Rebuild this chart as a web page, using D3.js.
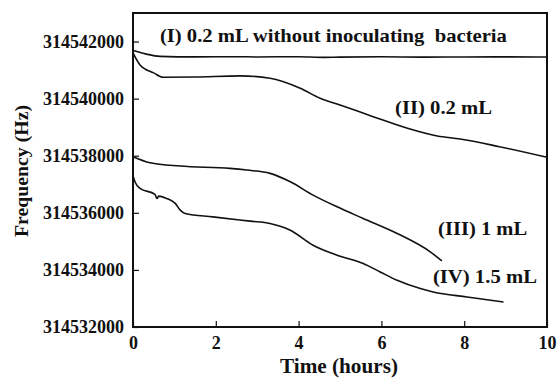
<!DOCTYPE html>
<html>
<head>
<meta charset="utf-8">
<script src="https://cdn.jsdelivr.net/npm/d3@7"></script>
<style>
  body { margin: 0; background: #fff; }
  svg text { font-family: "Liberation Serif", "Times New Roman", serif; font-weight: bold; fill: #111; }
</style>
</head>
<body>
<div id="chart"></div>
<script>
// [time (h), frequency (Hz)]
const curveI = [
  [0, 314541684], [0.3, 314541568], [0.65, 314541481], [1.5, 314541463], [2.5, 314541470],
  [3, 314541460], [4, 314541470], [4.6, 314541445], [5, 314541455], [6, 314541465],
  [7, 314541455], [8, 314541460], [9, 314541462], [10, 314541460]
]
const curveII = [
  [0, 314541604], [0.17, 314541182], [0.5, 314540902], [0.72, 314540751], [1.5, 314540760],
  [2.59, 314540796], [3.31, 314540716], [4.04, 314540365], [4.52, 314540014], [5.0, 314539779],
  [5.8, 314539369], [6.63, 314538961], [7.35, 314538691], [7.9, 314538586], [8.85, 314538316],
  [10, 314537944]
]
const curveIII = [
  [0, 314537965], [0.41, 314537754], [1.14, 314537638], [2.34, 314537558], [2.75, 314537498],
  [3.31, 314537382], [3.8, 314537087], [4.35, 314536621], [4.93, 314536210], [5.56, 314535803],
  [6.38, 314535277], [7.18, 314534632], [7.46, 314534316]
]
const curveIV = [
  [0, 314537300], [0.05, 314537080], [0.17, 314536856], [0.53, 314536645], [0.58, 314536500],
  [0.62, 314536586], [0.81, 314536505], [1.02, 314536330], [1.14, 314536094], [1.26, 314535978],
  [1.93, 314535859], [2.83, 314535708], [3.31, 314535628], [3.8, 314535392], [4.35, 314534866],
  [4.93, 314534515], [5.56, 314534224], [5.97, 314533929], [6.38, 314533638], [6.94, 314533347],
  [7.25, 314533228], [8.07, 314533052], [8.95, 314532877]
]
const series = [curveI, curveII, curveIII, curveIV]

const xTicks = [0, 2, 4, 6, 8, 10]
const yTicks = [314532000, 314534000, 314536000, 314538000, 314540000, 314542000]

const labels = [
  { text: "(I) 0.2 mL without inoculating  bacteria", t: 0.65, f: 314541990, len: 347 },
  { text: "(II) 0.2 mL", t: 6.33, f: 314539463, len: 97 },
  { text: "(III) 1 mL", t: 7.37, f: 314535214, len: 89 },
  { text: "(IV) 1.5 mL", t: 7.245, f: 314533530, len: 104 }
]

const dimensions = {
  width: 557,
  height: 383,
  margin: { top: 13, right: 10, bottom: 56, left: 133 }
}
dimensions.boundedWidth = dimensions.width - dimensions.margin.left - dimensions.margin.right
dimensions.boundedHeight = dimensions.height - dimensions.margin.top - dimensions.margin.bottom

const wrapper = d3.select("#chart")
  .append("svg")
    .attr("width", dimensions.width)
    .attr("height", dimensions.height)

const bounds = wrapper.append("g")
    .attr("transform", `translate(${dimensions.margin.left},${dimensions.margin.top})`)

const xScale = d3.scaleLinear()
  .domain([0, 10])
  .range([0, dimensions.boundedWidth])

const yScale = d3.scaleLinear()
  .domain([314532000, 314543000])
  .range([dimensions.boundedHeight, 0])

// axes, ticks pointing inward
const xAxis = bounds.append("g")
  .attr("transform", `translate(0,${dimensions.boundedHeight})`)
  .call(d3.axisBottom(xScale).tickValues(xTicks).tickSizeInner(-6).tickSizeOuter(0).tickPadding(9))
xAxis.select(".domain").remove()
xAxis.selectAll("line").attr("stroke", "#111").attr("stroke-width", 1.2)
xAxis.selectAll("text").attr("font-size", 18).attr("fill", "#111").attr("font-family", null)

const yAxis = bounds.append("g")
  .call(d3.axisLeft(yScale).tickValues(yTicks).tickFormat(d3.format("d")).tickSizeInner(-6).tickSizeOuter(0).tickPadding(9))
yAxis.select(".domain").remove()
yAxis.selectAll("line").attr("stroke", "#111").attr("stroke-width", 1.2)
yAxis.selectAll("text").attr("font-size", 18).attr("fill", "#111").attr("font-family", null)

// frame
bounds.append("rect")
  .attr("width", dimensions.boundedWidth)
  .attr("height", dimensions.boundedHeight)
  .attr("fill", "none")
  .attr("stroke", "#111")
  .attr("stroke-width", 2)

// data
const lineGenerator = d3.line()
  .x(d => xScale(d[0]))
  .y(d => yScale(d[1]))
  .curve(d3.curveMonotoneX)

series.forEach(s => {
  bounds.append("path")
    .attr("d", lineGenerator(s))
    .attr("fill", "none")
    .attr("stroke", "#111")
    .attr("stroke-width", 1.6)
    .attr("stroke-linejoin", "round")
})

labels.forEach(l => {
  bounds.append("text")
    .attr("x", xScale(l.t))
    .attr("y", yScale(l.f))
    .attr("font-size", 19)
    .attr("textLength", l.len)
    .attr("lengthAdjust", "spacingAndGlyphs")
    .style("white-space", "pre")
    .text(l.text)
})

// axis titles
wrapper.append("text")
  .attr("x", 339)
  .attr("y", 373)
  .attr("text-anchor", "middle")
  .attr("font-size", 20)
  .attr("textLength", 118)
  .attr("lengthAdjust", "spacingAndGlyphs")
  .text("Time (hours)")

wrapper.append("text")
  .attr("transform", `translate(28,171) rotate(-90)`)
  .attr("text-anchor", "middle")
  .attr("font-size", 19)
  .attr("textLength", 132)
  .attr("lengthAdjust", "spacingAndGlyphs")
  .text("Frequency (Hz)")
</script>
</body>
</html>
